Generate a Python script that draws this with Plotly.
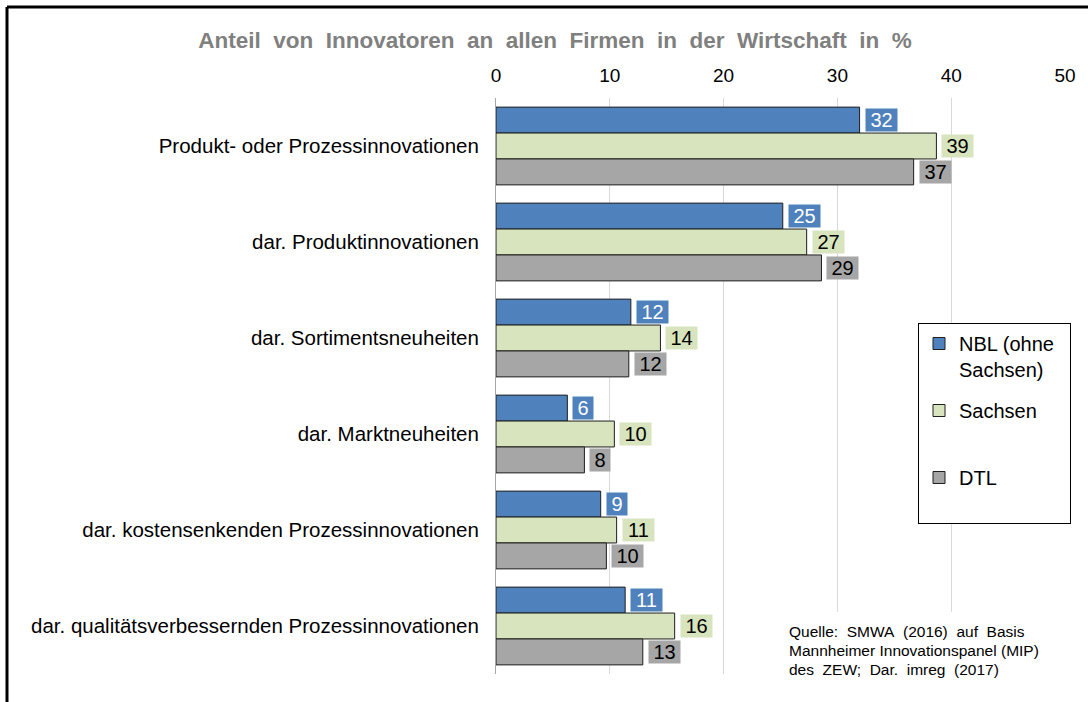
import plotly.graph_objects as go

categories = [
    "Produkt- oder Prozessinnovationen",
    "dar. Produktinnovationen",
    "dar. Sortimentsneuheiten",
    "dar. Marktneuheiten",
    "dar. kostensenkenden Prozessinnovationen",
    "dar. qualitätsverbessernden Prozessinnovationen",
]
series_names = ["NBL (ohne\u00a0\u00a0<br>Sachsen)", "Sachsen<br> ", "DTL<br> "]
nbl = [31.95, 25.2, 11.85, 6.27, 9.2, 11.35]
sachsen = [38.7, 27.3, 14.45, 10.4, 10.6, 15.7]
dtl = [36.7, 28.6, 11.67, 7.77, 9.7, 12.9]
x_ticks = [0, 10, 20, 30, 40, 50]
title_text = "Anteil  von  Innovatoren  an  allen  Firmen  in  der  Wirtschaft  in  %"
source_lines = [
    "Quelle:\u00a0 SMWA\u00a0 (2016)\u00a0 auf\u00a0 Basis",
    "Mannheimer Innovationspanel (MIP)",
    "des\u00a0 ZEW;\u00a0 Dar.\u00a0 imreg\u00a0 (2017)",
]

colors = ["#4F81BD", "#D7E4BD", "#A6A6A6"]
label_colors = ["white", "black", "black"]
FONT = "Liberation Sans, Arial, sans-serif"

W, H = 1088, 702
ML, MR, MT, MB = 496, 23, 98, 28
PW, PH = W - ML - MR, H - MT - MB
BARGAP = 0.19

fig = go.Figure()
all_series = [nbl, sachsen, dtl]
for i, vals in enumerate(all_series):
    fig.add_trace(go.Bar(
        y=categories, x=vals, orientation="h", name=series_names[i],
        legendgroup=str(i),
        marker=dict(color=colors[i], line=dict(color="#1f1f1f", width=1)),
        hoverinfo="x+y",
    ))

bar_px = PH / len(categories) * (1 - BARGAP) / 3
annotations = []
for i, vals in enumerate(all_series):
    for cat, v in zip(categories, vals):
        txt = f"{v:.0f}"
        annotations.append(dict(
            x=v, y=cat, xref="x", yref="y", text=txt, showarrow=False,
            xanchor="left", yanchor="middle", xshift=5, yshift=(1 - i) * bar_px,
            bgcolor=colors[i], width=9 + 11 * len(txt), align="center",
            borderpad=0,
            font=dict(family=FONT, size=20, color=label_colors[i]),
        ))

def px_x(p):
    return (p - ML) / PW

def px_y(p):
    return (H - MB - p) / PH

for k, line in enumerate(source_lines):
    annotations.append(dict(
        x=px_x(787), y=px_y(631 + 19 * k), xref="paper", yref="paper",
        text=line, showarrow=False, xanchor="left", yanchor="middle",
        font=dict(family=FONT, size=15.5, color="black"),
    ))

shapes = [
    dict(type="rect", xref="paper", yref="paper", x0=px_x(775), x1=px_x(1080),
         y0=px_y(612), y1=px_y(700), fillcolor="white", line=dict(width=0), layer="above"),
    dict(type="line", xref="paper", yref="paper", x0=px_x(7), x1=px_x(1100),
         y0=px_y(7), y1=px_y(7), line=dict(color="black", width=3)),
    dict(type="line", xref="paper", yref="paper", x0=px_x(7), x1=px_x(7),
         y0=px_y(7), y1=px_y(720), line=dict(color="black", width=3)),
]

fig.update_layout(
    width=W, height=H,
    margin=dict(l=ML, r=MR, t=MT, b=MB, pad=0),
    paper_bgcolor="white", plot_bgcolor="white",
    barmode="group", bargap=BARGAP, bargroupgap=0,
    font=dict(family=FONT, size=20, color="black"),
    title=dict(text=title_text, x=555 / W, y=1 - 40 / H, xanchor="center", yanchor="middle",
               font=dict(family=FONT, size=22.5, color="#808080", weight="bold")),
    xaxis=dict(side="top", range=[0, 50], tickvals=x_ticks, showgrid=True,
               gridcolor="#d9d9d9", gridwidth=1, zeroline=False, showline=False,
               ticks="", ticklabelstandoff=11, tickfont=dict(size=19, family=FONT)),
    yaxis=dict(autorange="reversed", showgrid=False, showline=True, linecolor="#a6a6a6",
               linewidth=1, ticks="", ticklabelstandoff=12, tickfont=dict(size=20.5, family=FONT)),
    legend=dict(x=px_x(918), y=px_y(323), xanchor="left", yanchor="top",
                bordercolor="black", borderwidth=1, bgcolor="white",
                valign="top", tracegroupgap=12, traceorder="grouped",
                font=dict(family=FONT, size=20)),
    annotations=annotations, shapes=shapes, showlegend=True,
)

fig.write_html("out.html", config={"displayModeBar": False},
               post_script="document.body.style.margin='0px';")
